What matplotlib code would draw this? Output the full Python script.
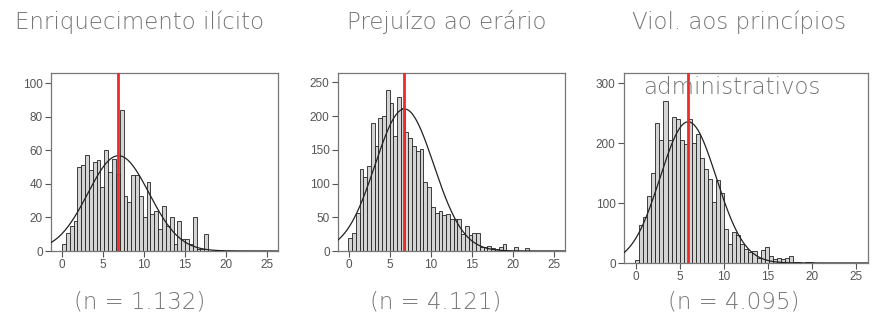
import numpy as np
import matplotlib.pyplot as plt

# titles / sample sizes
titles = ['Enriquecimento ilícito', 'Prejuízo ao erário', 'Viol. aos princípios']
n_labels = ['(n = 1.132)', '(n = 4.121)', '(n = 4.095)']
n_obs = [1132, 4121, 4095]

# histogram bar heights
bin_widths = [0.47, 0.46, 0.46]
start = [0.0, -0.1, -0.08]
counts_enriq = [4, 11, 15, 18, 50, 51, 57, 48, 53, 54, 38, 60, 47, 55, 46, 84, 33, 29, 45,
                45, 33, 20, 41, 22, 24, 13, 27, 15, 20, 4, 18, 7, 7, 4, 20, 1, 1, 10]
counts_prej = [20, 27, 57, 121, 110, 126, 190, 155, 198, 200, 239, 219, 171, 229, 212, 176,
               168, 155, 148, 152, 102, 95, 65, 57, 59, 53, 55, 47, 47, 47, 25, 37, 23, 26,
               27, 6, 6, 7, 4, 3, 6, 10, 0, 0, 6, 0, 0, 5]
counts_viol = [5, 64, 77, 111, 150, 234, 205, 271, 205, 244, 240, 205, 198, 240, 200, 215,
               176, 156, 140, 102, 139, 116, 57, 32, 52, 46, 32, 24, 18, 20, 9, 21, 26, 11,
               6, 8, 7, 8, 11, 2, 1, 0, 2, 2]
all_counts = [counts_enriq, counts_prej, counts_viol]

# mean (red line) and sd of the fitted normal curve
means = [6.9, 6.77, 5.95]
sds = [3.74, 3.59, 3.19]

y_ticks = [[0, 20, 40, 60, 80, 100], [0, 50, 100, 150, 200, 250], [0, 100, 200, 300]]
y_max = [106, 264, 317]

W, H = 872, 322
fig = plt.figure(figsize=(W / 100, H / 100), dpi=100)

# axes boxes in pixels: left, right, top, bottom
boxes = [(51, 278, 73, 251), (338, 565, 73, 251), (624, 868, 73, 263)]
title_x = [140, 447, 739]
n_x = [140, 436, 734]

txt_color = '#767676'
txt_font = dict(fontsize=16.5, family='DejaVu Sans', fontweight='light', color=txt_color)

for i in range(3):
    l, r, t, b = boxes[i]
    ax = fig.add_axes([l / W, 1 - b / H, (r - l) / W, (b - t) / H])
    counts = all_counts[i]
    bw = bin_widths[i]
    lefts = start[i] + bw * np.arange(len(counts))
    ax.bar(lefts, counts, width=bw, align='edge', color='#d4d4d4',
           edgecolor='#222222', linewidth=0.6, zorder=2)
    xs = np.linspace(-2, 27, 400)
    dens = n_obs[i] * bw / (sds[i] * np.sqrt(2 * np.pi)) * np.exp(-(xs - means[i]) ** 2 / (2 * sds[i] ** 2))
    ax.plot(xs, dens, color='#222222', linewidth=0.9, zorder=3)
    ax.axvline(means[i], color='#ee2a2a', linewidth=2, zorder=4)
    ax.set_xlim(-1.35, 26.4)
    ax.set_ylim(0, y_max[i])
    ax.set_xticks([0, 5, 10, 15, 20, 25])
    ax.set_yticks(y_ticks[i])
    ax.tick_params(labelsize=8.5, colors='#555555', length=4, width=0.8, pad=2)
    for lab in ax.get_xticklabels() + ax.get_yticklabels():
        lab.set_family('Liberation Sans')
    for s in ax.spines.values():
        s.set_color('#777777')
        s.set_linewidth(0.9)

    fig.text(title_x[i] / W, 1 - 22 / H, titles[i], ha='center', va='center', **txt_font)
    fig.text(n_x[i] / W, 1 - 302 / H, n_labels[i], ha='center', va='center', **txt_font)

fig.text(732 / W, 1 - 87 / H, 'administrativos', ha='center', va='center',
         zorder=10, **txt_font)

fig.savefig('out.png', dpi=100)
